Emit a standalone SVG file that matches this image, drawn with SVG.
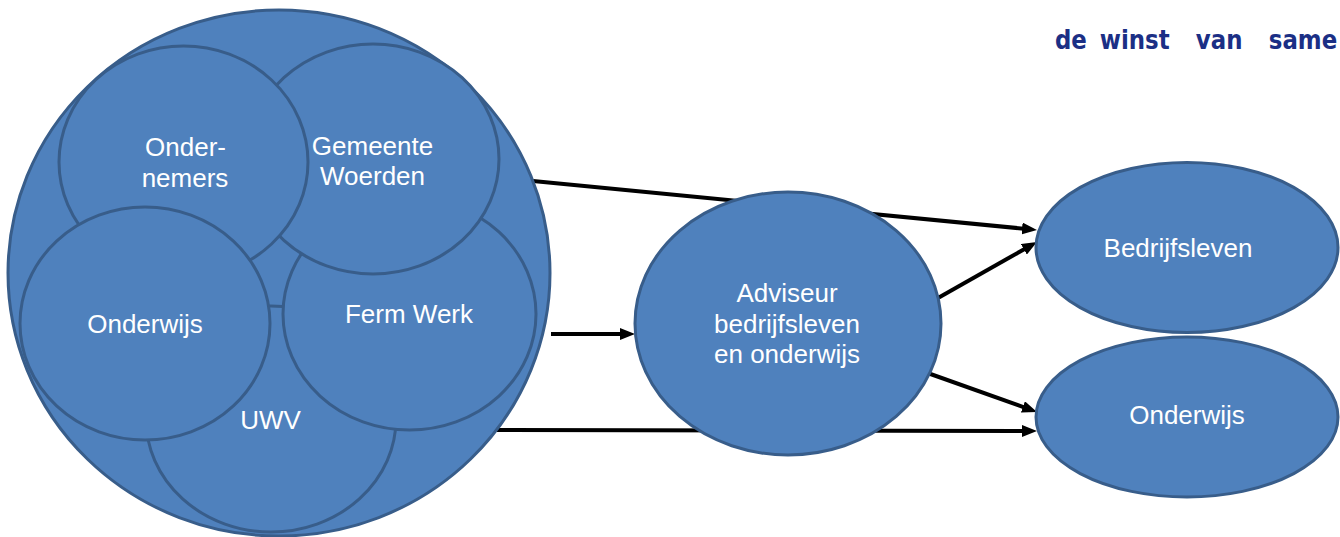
<svg xmlns="http://www.w3.org/2000/svg" width="1340" height="537" viewBox="0 0 1340 537">
  <style>
    .node { fill: #4f81bd; stroke: #385d8a; stroke-width: 3; }
    .lbl { font-family: "Liberation Sans", Arial, sans-serif; font-size: 26px; fill: #ffffff; text-anchor: middle; }
    .conn { stroke: #000000; stroke-width: 4; fill: none; marker-end: url(#arrow); }
    .title { font-family: "DejaVu Sans", sans-serif; font-weight: bold; font-size: 26px; fill: #1b2f85; }
  </style>
  <defs>
    <marker id="arrow" viewBox="0 0 15 12" refX="7" refY="6" markerWidth="15" markerHeight="12" markerUnits="userSpaceOnUse" orient="auto">
      <path d="M0,0 L15,6 L0,12 z" fill="#000000"/>
    </marker>
  </defs>
  <rect width="1340" height="537" fill="#ffffff"/>

  <text class="title" transform="translate(1055,49) scale(0.88,1)" y="0"><tspan x="0">de</tspan> <tspan x="51">winst</tspan> <tspan x="160">van</tspan> <tspan x="243">same</tspan></text>

  <g id="connectors">
    <line class="conn" x1="533" y1="181" x2="1029" y2="229.2"/>
    <line class="conn" x1="551" y1="334" x2="627" y2="334"/>
    <line class="conn" x1="497" y1="430" x2="1029" y2="431"/>
    <line class="conn" x1="938" y1="298" x2="1030" y2="245.9"/>
    <line class="conn" x1="922" y1="371" x2="1029.5" y2="409.3"/>
  </g>

  <g id="partners">
    <ellipse class="node" cx="279" cy="273" rx="271" ry="263"/>
  </g>
  <g id="uwv">
    <ellipse class="node" cx="271" cy="419" rx="125" ry="113"/>
    <text class="lbl" x="270.5" y="429">UWV</text>
  </g>
  <g id="ferm-werk">
    <ellipse class="node" cx="409.5" cy="314" rx="126.5" ry="116"/>
    <text class="lbl" x="409" y="323">Ferm Werk</text>
  </g>
  <g id="gemeente-woerden">
    <ellipse class="node" cx="373" cy="159" rx="126" ry="115"/>
    <text class="lbl" x="372.5" y="155">Gemeente</text>
    <text class="lbl" x="372.5" y="185">Woerden</text>
  </g>
  <g id="ondernemers">
    <ellipse class="node" cx="183.5" cy="162" rx="124.5" ry="116"/>
    <text class="lbl" x="185.5" y="156">Onder-</text>
    <text class="lbl" x="185" y="187">nemers</text>
  </g>
  <g id="onderwijs-inner">
    <ellipse class="node" cx="145" cy="323.5" rx="125" ry="116.5"/>
    <text class="lbl" x="145" y="333">Onderwijs</text>
  </g>

  <g id="adviseur">
    <ellipse class="node" cx="788" cy="323.5" rx="153" ry="131.5"/>
    <text class="lbl" x="787" y="302">Adviseur</text>
    <text class="lbl" x="787" y="333">bedrijfsleven</text>
    <text class="lbl" x="787" y="363">en onderwijs</text>
  </g>

  <g id="bedrijfsleven">
    <ellipse class="node" cx="1187" cy="247.5" rx="151" ry="85"/>
    <text class="lbl" x="1178" y="257">Bedrijfsleven</text>
  </g>
  <g id="onderwijs">
    <ellipse class="node" cx="1187" cy="417" rx="151" ry="80"/>
    <text class="lbl" x="1187" y="424">Onderwijs</text>
  </g>
</svg>
